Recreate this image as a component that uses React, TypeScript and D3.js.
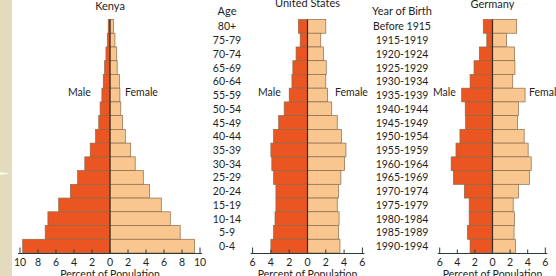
import React from "react";
import * as d3 from "d3";

// age groups, top to bottom
const ageGroups = [
  "80+", "75-79", "70-74", "65-69", "60-64", "55-59", "50-54", "45-49", "40-44",
  "35-39", "30-34", "25-29", "20-24", "15-19", "10-14", "5-9", "0-4",
];

const birthYears = [
  "Before 1915", "1915-1919", "1920-1924", "1925-1929", "1930-1934", "1935-1939",
  "1940-1944", "1945-1949", "1950-1954", "1955-1959", "1960-1964", "1965-1969",
  "1970-1974", "1975-1979", "1980-1984", "1985-1989", "1990-1994",
];

// percent of population, same order as ageGroups
const kenyaMale = [0.2, 0.3, 0.45, 0.6, 0.75, 0.9, 1.1, 1.25, 1.6, 2.2, 2.8, 3.6, 4.4, 5.7, 6.9, 7.2, 9.7];
const kenyaFemale = [0.4, 0.55, 0.75, 0.8, 1.05, 1.1, 1.2, 1.4, 1.7, 2.3, 2.8, 3.7, 4.4, 5.7, 6.7, 7.8, 9.4];

const usMale = [1.0, 0.8, 1.25, 1.6, 1.7, 2.0, 2.55, 3.15, 3.7, 4.0, 3.9, 3.7, 3.45, 3.45, 3.55, 3.7, 4.0];
const usFemale = [2.0, 1.45, 1.75, 2.05, 2.0, 2.2, 2.65, 3.25, 3.7, 4.2, 4.05, 3.65, 3.4, 3.25, 3.45, 3.4, 3.55];

const germanyMale = [1.05, 0.65, 1.5, 2.1, 2.55, 3.5, 3.1, 3.05, 3.7, 4.15, 4.7, 4.45, 3.2, 2.65, 2.65, 2.85, 2.55];
const germanyFemale = [2.75, 1.6, 2.5, 2.55, 2.3, 3.7, 2.95, 2.85, 3.6, 4.05, 4.4, 4.2, 2.95, 2.35, 2.5, 2.45, 2.6];

const kenyaTicks = [-10, -8, -6, -4, -2, 0, 2, 4, 6, 8, 10];
const smallTicks = [-6, -4, -2, 0, 2, 4, 6];

const W = 556;
const H = 276;
const MALE = "#ea5522";
const FEMALE = "#f8c68e";
const EDGE = "#8b6a4a";
const INK = "#1e1e1e";
const FONT = "Lato, 'Open Sans', sans-serif";

const yBand = d3.scaleBand<string>().domain(ageGroups).range([19.5, 253]).padding(0);

interface PanelProps {
  title: string;
  titleY: number;
  male: number[];
  female: number[];
  domainMax: number;
  range: [number, number];
  ticks: number[];
  maleX: number;
  femaleX: number;
}

function Panel({ title, titleY, male, female, domainMax, range, ticks, maleX, femaleX }: PanelProps) {
  const x = d3.scaleLinear().domain([-domainMax, domainMax]).range(range);
  const x0 = x(0);
  const axisY = 253.5;
  const bh = yBand.bandwidth();
  return (
    <g>
      <text x={x0} y={titleY} textAnchor="middle" fontSize={11} fill={INK} fontFamily={FONT}>
        {title}
      </text>
      {ageGroups.map((a, i) => (
        <g key={a}>
          <rect x={x(-male[i])} y={yBand(a)} width={x0 - x(-male[i])} height={bh}
            fill={MALE} stroke={EDGE} strokeWidth={0.7} />
          <rect x={x0} y={yBand(a)} width={x(female[i]) - x0} height={bh}
            fill={FEMALE} stroke={EDGE} strokeWidth={0.7} />
        </g>
      ))}
      <line x1={x0} x2={x0} y1={19.5} y2={axisY} stroke="#3a2a20" strokeWidth={1.2} />
      <text x={maleX} y={96} fontSize={10.5} fill={INK} fontFamily={FONT}>Male</text>
      <text x={femaleX} y={96} fontSize={10.5} fill={INK} fontFamily={FONT}>Female</text>
      <line x1={x(-domainMax) - 2} x2={x(domainMax) + 2} y1={axisY} y2={axisY} stroke="#2c3a3a" strokeWidth={1.2} />
      {ticks.map((t) => (
        <g key={t}>
          <line x1={x(t)} x2={x(t)} y1={axisY}
            y2={axisY - (Math.abs(t) === domainMax ? 6 : 4)} stroke="#2c3a3a" strokeWidth={1} />
          <text x={x(t)} y={266} textAnchor="middle" fontSize={10.5} fill={INK} fontFamily={FONT}>
            {Math.abs(t)}
          </text>
        </g>
      ))}
      <text x={x0} y={278} textAnchor="middle" fontSize={10.5} fill={INK} fontFamily={FONT}>
        Percent of Population
      </text>
    </g>
  );
}

export default function App() {
  return (
    <svg width={W} height={H} style={{ position: "absolute", left: 0, top: 0, background: "#fff" }}>
      <rect x={0} y={0} width={12} height={H} fill="#e3dbbd" />
      <path d="M0,172 L10,173.5 L0,175 Z" fill="#fffbe8" />

      <Panel title="Kenya" titleY={10} male={kenyaMale} female={kenyaFemale}
        domainMax={10} range={[20, 200]} ticks={kenyaTicks} maleX={68} femaleX={125} />
      <Panel title="United States" titleY={7} male={usMale} female={usFemale}
        domainMax={6} range={[252.6, 362.4]} ticks={smallTicks} maleX={258} femaleX={335} />
      <Panel title="Germany" titleY={8} male={germanyMale} female={germanyFemale}
        domainMax={6} range={[439.7, 545.3]} ticks={smallTicks} maleX={433} femaleX={529} />

      <text x={227} y={15} textAnchor="middle" fontSize={11} fill={INK} fontFamily={FONT}>Age</text>
      {ageGroups.map((a) => (
        <text key={a} x={227} y={(yBand(a) as number) + yBand.bandwidth() / 2 + 4}
          textAnchor="middle" fontSize={10.5} fill={INK} fontFamily={FONT}>
          {a}
        </text>
      ))}

      <text x={402} y={15} textAnchor="middle" fontSize={11} fill={INK} fontFamily={FONT}>Year of Birth</text>
      {birthYears.map((b, i) => (
        <text key={b} x={402} y={(yBand(ageGroups[i]) as number) + yBand.bandwidth() / 2 + 4}
          textAnchor="middle" fontSize={10.5} fill={INK} fontFamily={FONT}>
          {b}
        </text>
      ))}
    </svg>
  );
}
